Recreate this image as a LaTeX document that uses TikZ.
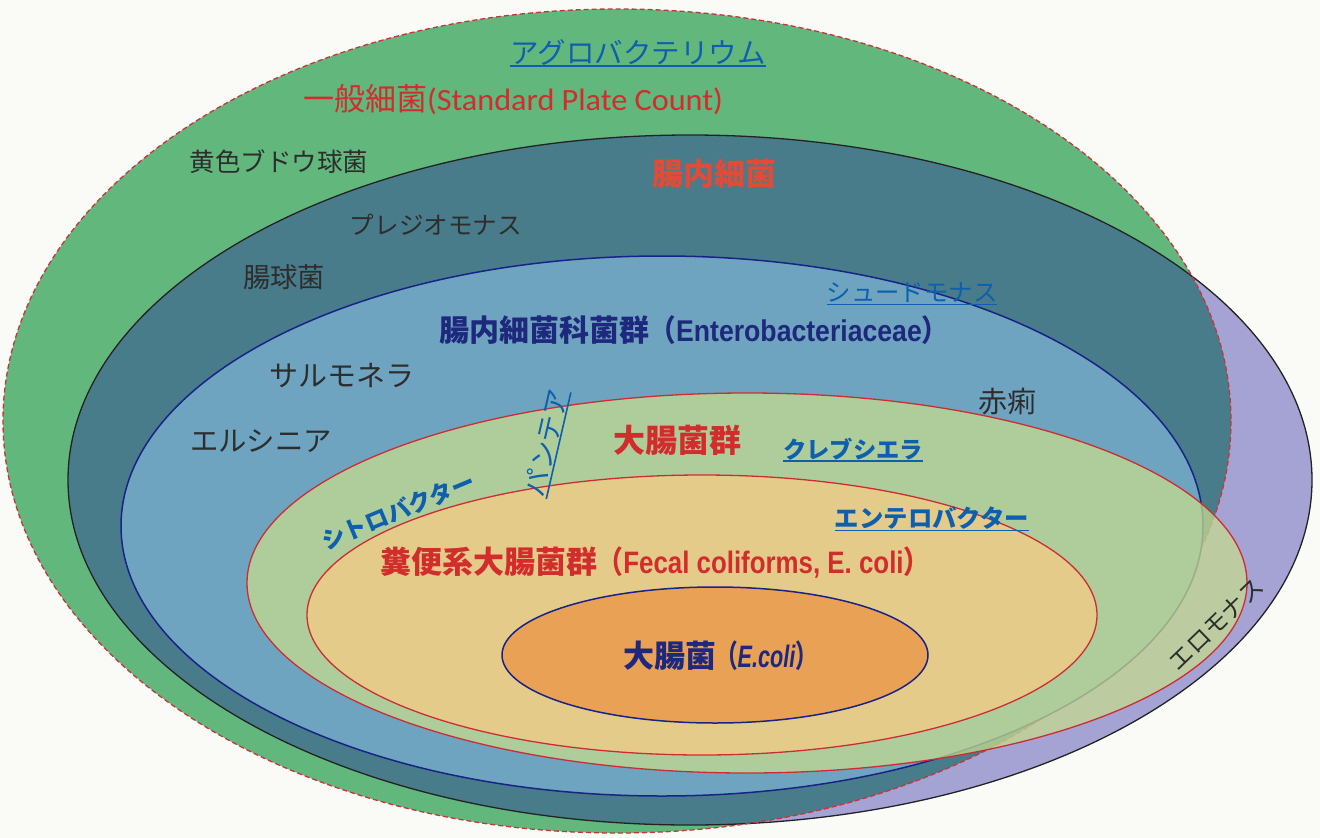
\documentclass[tikz,border=0pt]{standalone}
\usepackage{fontspec}
\usepackage{graphicx}
\setmainfont{Noto Sans CJK JP}
\newfontfamily\calib{Carlito}
\newfontfamily\lib{Liberation Sans}
\definecolor{cBg}{RGB}{250,250,246}
\definecolor{cGreen}{RGB}{98,183,124}
\definecolor{cTeal}{RGB}{72,124,138}
\definecolor{cPurple}{RGB}{165,163,212}
\definecolor{cLBlue}{RGB}{110,164,192}
\definecolor{cColi}{RGB}{197,219,143}
\definecolor{cFecal}{RGB}{228,203,138}
\definecolor{cOrange}{RGB}{233,162,85}
\definecolor{cBlack}{RGB}{35,35,35}
\definecolor{cDash}{RGB}{205,50,60}
\definecolor{cNavy}{RGB}{25,35,135}
\definecolor{cRed}{RGB}{205,45,50}
\definecolor{cBlue}{RGB}{15,95,175}
\definecolor{cRedT}{RGB}{210,45,45}
\definecolor{cOrRed}{RGB}{225,75,55}
\definecolor{cNavyT}{RGB}{30,40,125}
\definecolor{cDark}{RGB}{45,45,45}
\newcommand\fpx[1]{\fontsize{#1pt}{#1pt}\selectfont}
\newsavebox{\ulbx}
\newcommand\ul[1]{\sbox\ulbx{#1}\rlap{\rule[-0.13em]{\wd\ulbx}{0.06em}}\usebox\ulbx}
\newcommand\hfit[2]{\resizebox{#1pt}{\height}{#2}}
\begin{document}
\begin{tikzpicture}[x=1pt,y=-1pt,
  lbl/.style={inner sep=0pt, anchor=center},
  outerline/.style={cBlack, line width=1.3pt},
  dashline/.style={cDash, line width=1.3pt, dash pattern=on 5pt off 3pt},
  navyline/.style={cNavy, line width=1.5pt},
  redline/.style={cRed, line width=1.3pt}]
\useasboundingbox (0,0) rectangle (1320,838);
\fill[cBg] (0,0) rectangle (1320,838);
% intestinal bacteria ellipse (purple outside, teal inside the general ellipse)
\fill[cPurple] (690,480) ellipse [x radius=622, y radius=345];
\fill[cGreen] (617,421) ellipse [x radius=614, y radius=412];
\begin{scope}
  \clip (617,421) ellipse [x radius=614, y radius=412];
  \fill[cTeal] (690,480) ellipse [x radius=622, y radius=345];
\end{scope}
\draw[outerline] (690,480) ellipse [x radius=622, y radius=345];
\draw[dashline] (617,421) ellipse [x radius=614, y radius=412];
% Enterobacteriaceae
\fill[cLBlue] (662,526) ellipse [x radius=541, y radius=270];
\draw[navyline] (662,526) ellipse [x radius=541, y radius=270];
% coliforms
\fill[cColi, fill opacity=0.75] (747,583) ellipse [x radius=500, y radius=190];
\draw[redline] (747,583) ellipse [x radius=500, y radius=190];
% fecal coliforms
\fill[cFecal] (702,615) ellipse [x radius=395, y radius=140];
\draw[redline] (702,615) ellipse [x radius=395, y radius=140];
% E. coli
\fill[cOrange] (715,655) ellipse [x radius=213, y radius=68];
\draw[navyline] (715,655) ellipse [x radius=213, y radius=68];

% labels
\node[lbl, text=cBlue] (agro) at (638,53) {\fpx{28.5}\ul{アグロバクテリウム}};
\node[lbl, text=cRedT] (spc) at (513,100) {\fpx{31}一般細菌\calib\hfit{296}{(Standard Plate Count)}};
\node[lbl, text=cDark] (ouso) at (279,162) {\fpx{25.5}黄色ブドウ球菌};
\node[lbl, text=cOrRed] (chonai) at (714,174) {\fpx{31}\bfseries 腸内細菌};
\node[lbl, text=cDark] (pleg) at (436,225) {\fpx{24.6}プレジオモナス};
\node[lbl, text=cDark] (chokyu) at (284,277) {\fpx{27.3}腸球菌};
\node[lbl, text=cBlue] (pseudo) at (912,294) {\fpx{24.4}\ul{シュードモナス}};
\node[lbl, text=cNavyT] (entero) at (694,330) {\fpx{30}\bfseries 腸内細菌科菌群\hfit{299}{（{\lib\bfseries Enterobacteriaceae}）}};
\node[lbl, text=cDark] (salmo) at (342,376) {\fpx{29}サルモネラ};
\node[lbl, text=cDark] (yers) at (261,441) {\fpx{28.4}エルシニア};
\node[lbl, text=cDark] (sekiri) at (1007,402) {\fpx{29}赤痢};
\node[lbl, text=cBlue, rotate=77] (pantoea) at (547,443) {\fpx{27}\ul{パンテア}};
\node[lbl, text=cBlue, rotate=22.6] (citro) at (398,511) {\fpx{23.5}\bfseries シトロバクター};
\node[lbl, text=cRedT] (coliform) at (677,440) {\fpx{32}\bfseries 大腸菌群};
\node[lbl, text=cBlue] (kleb) at (853,450) {\fpx{23.3}\bfseries\ul{クレブシエラ}};
\node[lbl, text=cBlue] (enterob) at (932,519) {\fpx{24.4}\bfseries\ul{エンテロバクター}};
\node[lbl, text=cRedT] (fecal) at (655,563) {\fpx{31}\bfseries 糞便系大腸菌群\hfit{332}{（{\lib Fecal coliforms, E. coli}）}};
\node[lbl, text=cNavyT] (ecoli) at (720,656) {\fpx{31}\bfseries 大腸菌\hfit{101}{（{\lib\bfseries\itshape E.coli}）}};
\node[lbl, text=cDark, rotate=44] (aero) at (1216,624) {\fpx{24}エロモナス};
\end{tikzpicture}
\end{document}
